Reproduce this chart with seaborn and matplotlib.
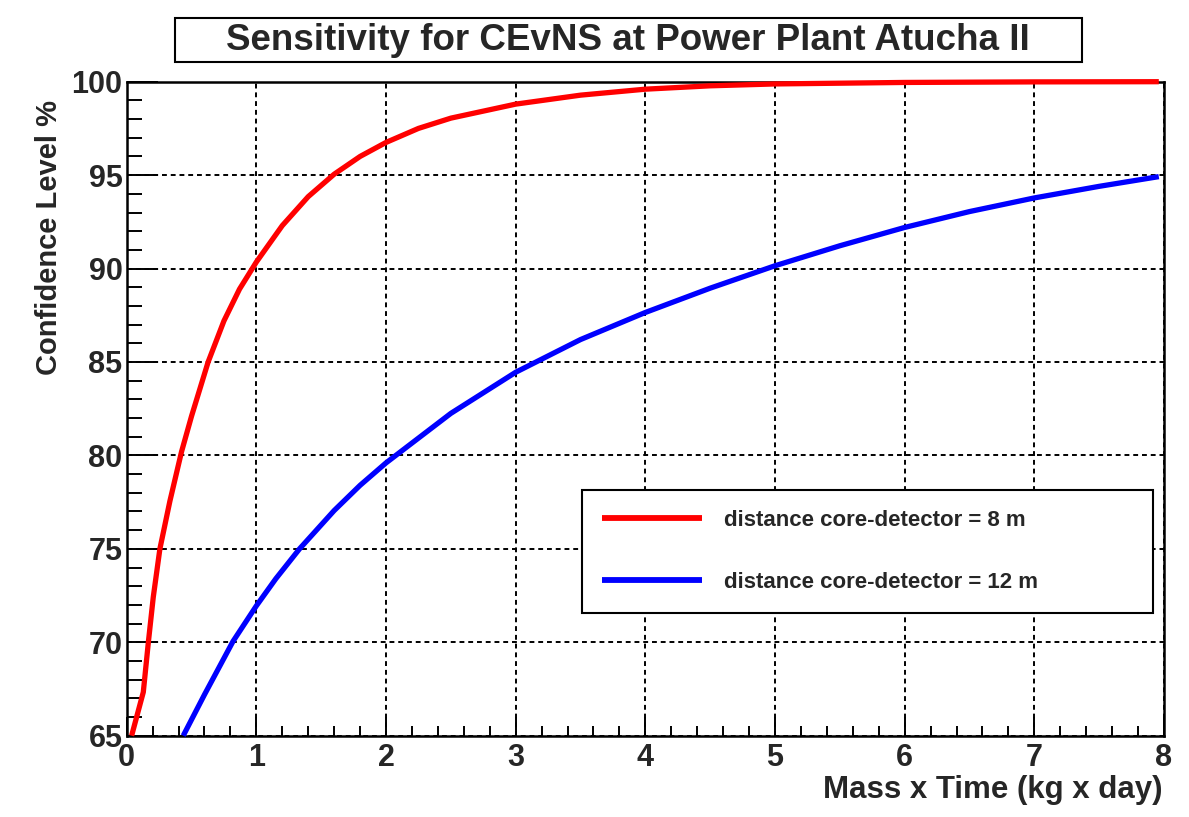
import numpy as np
import pandas as pd
import matplotlib
matplotlib.use("Agg")
import matplotlib.pyplot as plt
import seaborn as sns
from matplotlib.ticker import MultipleLocator
from matplotlib.patches import Rectangle

# ---------------- data ----------------
title = "Sensitivity for CEvNS at Power Plant Atucha II"
x_label = "Mass x Time (kg x day)"
y_label = "Confidence Level %"
series_labels = ["distance core-detector = 8 m", "distance core-detector = 12 m"]
series_colors = ["#ff0000", "#0000ff"]

mt_8m = [0.038, 0.128, 0.167, 0.205, 0.256, 0.333, 0.423, 0.50, 0.628, 0.75,
         0.87, 1.0, 1.2, 1.4, 1.6, 1.8, 2.0, 2.25, 2.5, 3.0, 3.5,
         4.0, 4.5, 5.0, 6.0, 7.0, 7.96]
cl_8m = [65.0, 67.33, 70.0, 72.42, 75.0, 77.55, 80.2, 82.1, 85.0, 87.2,
         88.9, 90.35, 92.3, 93.85, 95.05, 96.0, 96.75, 97.5, 98.05, 98.8, 99.28,
         99.6, 99.78, 99.88, 99.96, 99.99, 100.0]

mt_12m = [0.436, 0.6, 0.82, 1.0, 1.15, 1.333, 1.6, 1.8, 2.0, 2.5, 3.0,
          3.5, 4.0, 4.5, 5.0, 5.5, 6.0, 6.5, 7.0, 7.5, 7.96]
cl_12m = [65.0, 67.2, 70.05, 71.95, 73.4, 75.0, 77.05, 78.4, 79.6, 82.25, 84.45,
          86.2, 87.65, 88.95, 90.15, 91.22, 92.2, 93.05, 93.78, 94.4, 94.92]

x_ticks = [0, 1, 2, 3, 4, 5, 6, 7, 8]
y_ticks = [65, 70, 75, 80, 85, 90, 95, 100]

# ---------------- style ----------------
sns.set_style("ticks")
plt.rcParams["font.family"] = ["Liberation Sans", "DejaVu Sans"]
plt.rcParams["font.weight"] = "bold"
plt.rcParams["axes.labelweight"] = "bold"

df = pd.concat([
    pd.DataFrame({"mt": mt_8m, "cl": cl_8m, "series": series_labels[0]}),
    pd.DataFrame({"mt": mt_12m, "cl": cl_12m, "series": series_labels[1]}),
], ignore_index=True)

fig = plt.figure(figsize=(11.89, 8.17), dpi=100, facecolor="white")
ax = fig.add_axes([0.10656, 0.09951, 0.87241, 0.80049])
ax.set_facecolor("white")

sns.lineplot(data=df, x="mt", y="cl", hue="series",
             palette=dict(zip(series_labels, series_colors)),
             sort=False, estimator=None, linewidth=3.8, ax=ax)
for ln in ax.get_lines():
    ln.set_clip_on(False)
    ln.set_zorder(4)
    ln.set_solid_joinstyle("round")
    ln.set_solid_capstyle("butt")

ax.set_xlim(x_ticks[0], x_ticks[-1])
ax.set_ylim(y_ticks[0], y_ticks[-1])
ax.set_xticks(x_ticks)
ax.set_yticks(y_ticks)
ax.xaxis.set_minor_locator(MultipleLocator(0.2))
ax.yaxis.set_minor_locator(MultipleLocator(1))

ax.tick_params(axis="both", which="both", direction="in", color="black",
               top=False, right=False, width=1.4)
ax.tick_params(axis="y", which="major", length=22, labelsize=22, pad=3)
ax.tick_params(axis="y", which="minor", length=11)
ax.tick_params(axis="x", which="major", length=14, labelsize=22, pad=5)
ax.tick_params(axis="x", which="minor", length=7)

for sp in ax.spines.values():
    sp.set_visible(True)
    sp.set_color("black")
    sp.set_linewidth(1.8)

ax.grid(True, which="major", color="black", linestyle=(0, (2.5, 2)),
        linewidth=1.4)
ax.set_axisbelow(True)

ax.set_xlabel(x_label, fontsize=22.5, loc="right")
ax.xaxis.set_label_coords(0.999, -0.060)
ax.set_ylabel(y_label, fontsize=21, loc="top")
ax.yaxis.set_label_coords(-0.061, 0.972)

handles, labels = ax.get_legend_handles_labels()
leg = ax.legend(handles, labels, loc="center", mode="expand",
                bbox_to_anchor=(0.439, 0.1876, 0.55, 0.188),
                fontsize=16, frameon=True, fancybox=False, framealpha=1,
                edgecolor="black", handlelength=4.5, handletextpad=1.0,
                borderpad=0.88, labelspacing=1.85, borderaxespad=0)
leg.get_frame().set_linewidth(1.5)
for h in leg.get_lines():
    h.set_linewidth(4.2)

# title box
fig.add_artist(Rectangle((0.1472, 0.9241), 0.7628, 0.0539,
                         transform=fig.transFigure, facecolor="white",
                         edgecolor="black", linewidth=1.5))
fig.text(0.5282, 0.951, title, ha="center", va="center", fontsize=26.5,
         fontweight="bold")

fig.savefig("out.png", dpi=100, facecolor="white")
